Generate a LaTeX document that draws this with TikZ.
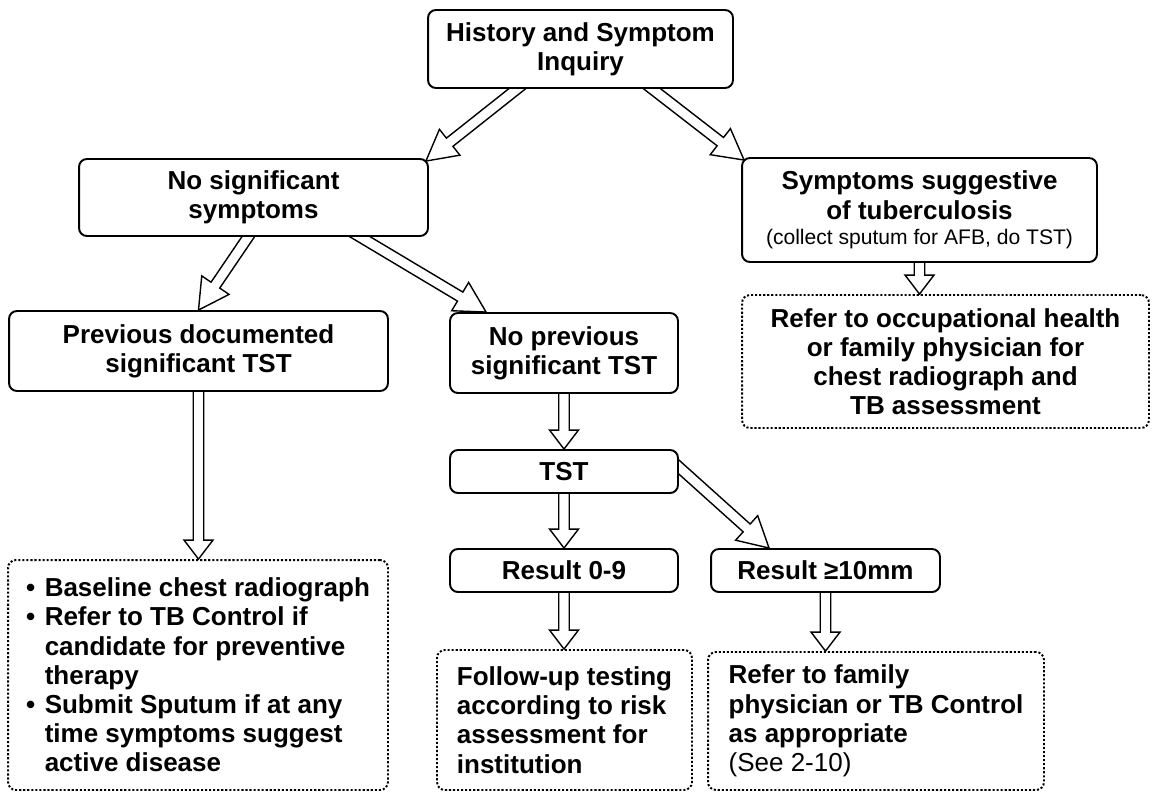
\documentclass[tikz,border=0pt]{standalone}
\usepackage{fontspec}
\setmainfont{Liberation Sans}
\usetikzlibrary{calc,positioning,backgrounds}
\setlength{\parindent}{0pt}

% hollow block arrow: start, tip, head length, head half width
\newcommand{\fatarrow}[4]{%
  \draw[fat] let \p1=(#1), \p2=(#2),
      \n1={atan2(\y2-\y1,\x2-\x1)}, \n2={veclen(\x2-\x1,\y2-\y1)} in
    ($(\p1)+(\n1+90:0.105cm)$)
 -- ($(\p1)+(\n1:\n2-#3)+(\n1+90:0.105cm)$)
 -- ($(\p1)+(\n1:\n2-#3)+(\n1+90:#4)$)
 -- (\p2)
 -- ($(\p1)+(\n1:\n2-#3)+(\n1-90:#4)$)
 -- ($(\p1)+(\n1:\n2-#3)+(\n1-90:0.105cm)$)
 -- ($(\p1)+(\n1-90:0.105cm)$) -- cycle;}

\begin{document}
\begin{tikzpicture}[x=0.02cm, y=-0.02cm]
\tikzstyle{box}=[draw, line width=1.1pt, rounded corners=4.5pt, fill=white, align=center,
                 inner sep=2pt, font=\bfseries\fontsize{14.8}{16.6}\selectfont]
\tikzstyle{dotbox}=[box, dash pattern=on 1.2pt off 1.1pt]
\tikzstyle{fat}=[draw, line width=0.8pt, fill=white, line join=miter]
\useasboundingbox (0,0) rectangle (1152,792);
\node[box, minimum width=6.1cm, minimum height=1.56cm] (hist) at (580.5,49) {History and Symptom\\Inquiry};
\node[box, minimum width=6.98cm, minimum height=1.54cm] (nosym) at (253.5,197.5) {No significant\\symptoms};
\node[box, minimum width=7.1cm, minimum height=2.08cm] (sympt) at (919.5,210)
  {Symptoms suggestive\\of tuberculosis\\[-2pt]{\mdseries\fontsize{12}{14}\selectfont (collect sputum for AFB, do TST)}};
\node[box, minimum width=7.58cm, minimum height=1.6cm] (prevsig) at (198.5,351) {Previous documented\\significant TST};
\node[box, minimum width=4.56cm, minimum height=1.6cm] (noprev) at (564,353) {No previous\\significant TST};
\node[dotbox, minimum width=8.14cm, minimum height=2.66cm] (referoh) at (945.5,361.5)
  {Refer to occupational health\\or family physician for\\chest radiograph and\\TB assessment};
\node[box, minimum width=4.56cm, minimum height=0.86cm] (tst) at (564,471.5) {TST};
\node[box, minimum width=4.56cm, minimum height=0.86cm] (res09) at (564,570.5) {Result 0-9};
\node[box, minimum width=4.58cm, minimum height=0.86cm] (res10) at (825.5,570.5) {Result ≥10mm};
\node[dotbox, align=left, minimum width=7.6cm, minimum height=4.6cm] (bullets) at (198,675)
  {\makebox[0.72em][l]{\textbullet}Baseline chest radiograph\\
   \makebox[0.72em][l]{\textbullet}Refer to TB Control if\\
   \hspace*{0.72em}candidate for preventive\\
   \hspace*{0.72em}therapy\\
   \makebox[0.72em][l]{\textbullet}Submit Sputum if at any\\
   \hspace*{0.72em}time symptoms suggest\\
   \hspace*{0.72em}active disease};
\node[dotbox, align=left, minimum width=5.1cm, minimum height=2.8cm] (followup) at (564.5,720)
  {Follow-up testing\\according to risk\\assessment for\\institution};
\node[dotbox, align=left, minimum width=6.72cm, minimum height=2.76cm] (refam) at (876,721)
  {Refer to family\\physician or TB Control\\as appropriate\\{\mdseries (See 2-10)}};
\begin{scope}[on background layer]
\fatarrow{[xshift=-1.07cm,yshift=0.16cm]hist.south}{$(nosym.north east)+(-3,3)$}{0.6cm}{0.33cm}
\fatarrow{[xshift=1.23cm,yshift=0.16cm]hist.south}{$(sympt.north west)+(3,3)$}{0.6cm}{0.33cm}
\fatarrow{[yshift=0.16cm]nosym.south}{prevsig.north}{0.6cm}{0.33cm}
\fatarrow{[xshift=1.87cm,yshift=0.16cm]nosym.south}{[xshift=0.74cm]noprev.north west}{0.6cm}{0.33cm}
\fatarrow{[yshift=0.16cm]sympt.south}{sympt.south |- referoh.north}{0.38cm}{0.29cm}
\fatarrow{[yshift=0.16cm]prevsig.south}{prevsig.south |- bullets.north}{0.38cm}{0.29cm}
\fatarrow{[yshift=0.16cm]noprev.south}{tst.north}{0.38cm}{0.29cm}
\fatarrow{[yshift=0.16cm]tst.south}{res09.north}{0.38cm}{0.29cm}
\fatarrow{[xshift=-0.18cm,yshift=0.25cm]tst.east}{[xshift=1.18cm]res10.north west}{0.6cm}{0.33cm}
\fatarrow{[yshift=0.16cm]res09.south}{res09.south |- followup.north}{0.38cm}{0.29cm}
\fatarrow{[yshift=0.16cm]res10.south}{res10.south |- refam.north}{0.38cm}{0.29cm}
\end{scope}
\end{tikzpicture}
\end{document}
